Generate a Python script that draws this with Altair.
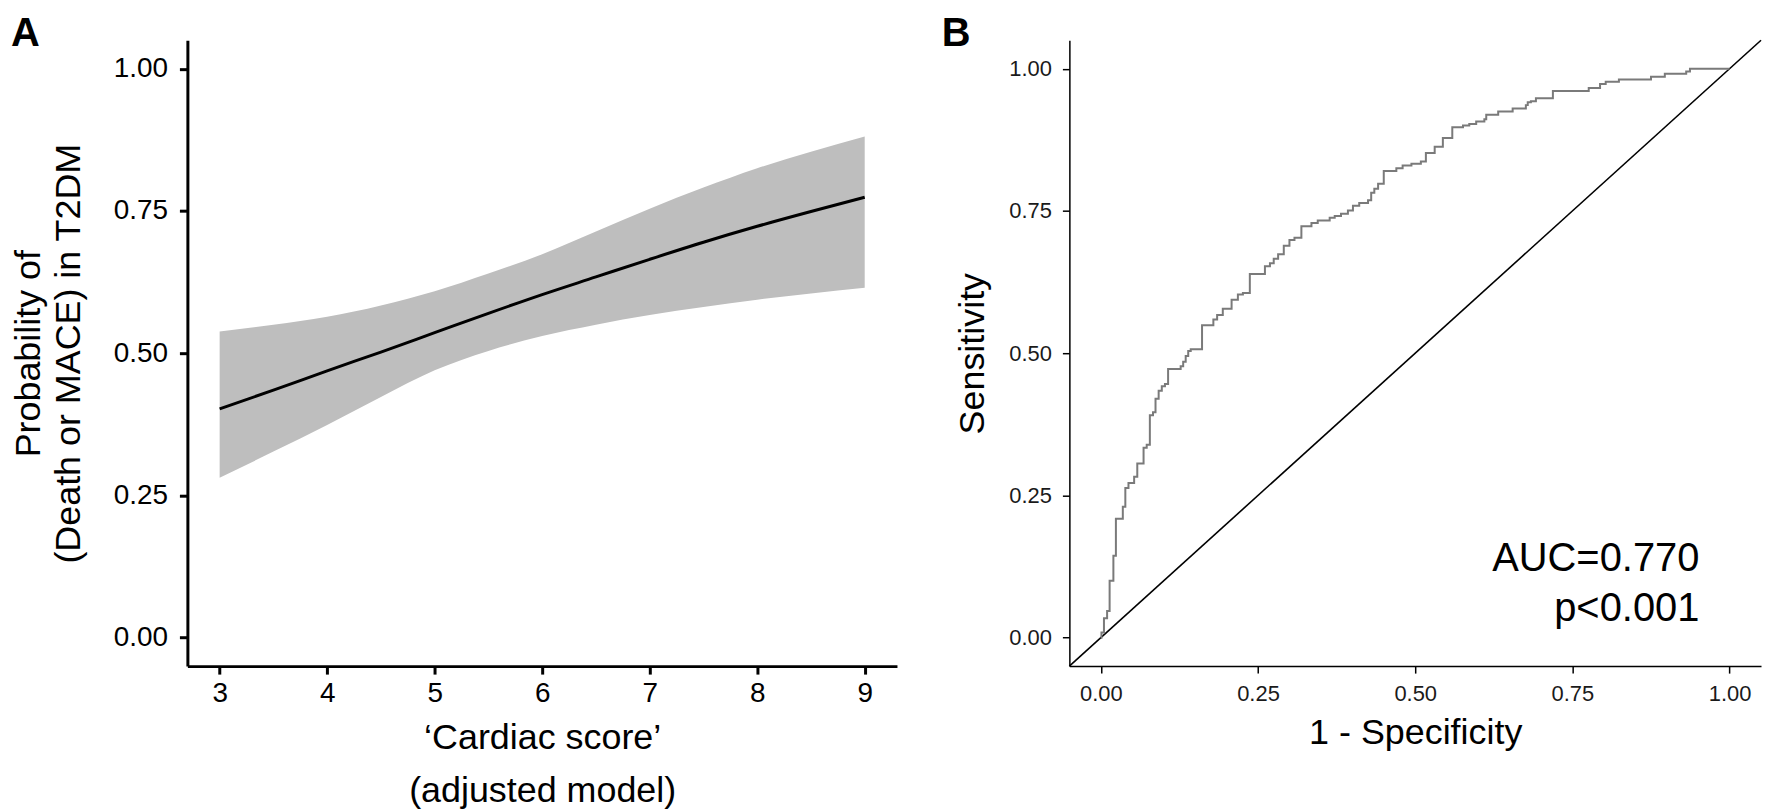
import altair as alt
import pandas as pd

FONT = "Liberation Sans"

# ---------------- Panel A: predicted probability vs cardiac score ----------------
score = [3.0, 3.5, 4.0, 4.5, 5.0, 5.5, 6.0, 6.5, 7.0, 7.5, 8.0, 8.5, 9.0]
prob = [0.402, 0.435, 0.469, 0.502, 0.536, 0.570, 0.603, 0.634, 0.665, 0.695, 0.723, 0.749, 0.774]
ci_low = [0.281, 0.327, 0.374, 0.423, 0.470, 0.504, 0.530, 0.550, 0.567, 0.581, 0.594, 0.605, 0.615]
ci_high = [0.538, 0.550, 0.564, 0.584, 0.609, 0.640, 0.674, 0.714, 0.754, 0.791, 0.825, 0.854, 0.881]
a_xticks = [3, 4, 5, 6, 7, 8, 9]
prob_ticks = [0.0, 0.25, 0.5, 0.75, 1.0]

# ---------------- Panel B: ROC curve (points where the curve rises) ----------------
fpr = [0.000, 0.001, 0.005, 0.010, 0.014, 0.020, 0.024, 0.035, 0.039, 0.044,
       0.053, 0.058, 0.068, 0.073, 0.078, 0.083, 0.087, 0.092, 0.097, 0.102,
       0.107, 0.127, 0.131, 0.135, 0.139, 0.143, 0.161, 0.179, 0.185, 0.194,
       0.208, 0.218, 0.226, 0.237, 0.261, 0.269, 0.275, 0.282, 0.291, 0.300,
       0.308, 0.319, 0.335, 0.345, 0.364, 0.372, 0.382, 0.393, 0.401, 0.411,
       0.425, 0.430, 0.435, 0.441, 0.450, 0.470, 0.480, 0.494, 0.509, 0.517,
       0.531, 0.544, 0.559, 0.576, 0.586, 0.597, 0.610, 0.613, 0.632, 0.655,
       0.676, 0.679, 0.684, 0.692, 0.719, 0.776, 0.794, 0.803, 0.824, 0.875,
       0.897, 0.931, 0.937, 1.000]
sens = [0.000, 0.009, 0.034, 0.047, 0.100, 0.144, 0.209, 0.230, 0.263, 0.272,
        0.283, 0.306, 0.334, 0.339, 0.391, 0.396, 0.420, 0.434, 0.442, 0.446,
        0.472, 0.477, 0.485, 0.495, 0.504, 0.507, 0.549, 0.559, 0.567, 0.578,
        0.594, 0.603, 0.606, 0.639, 0.653, 0.658, 0.666, 0.674, 0.689, 0.699,
        0.703, 0.723, 0.729, 0.733, 0.738, 0.741, 0.745, 0.751, 0.759, 0.764,
        0.769, 0.782, 0.789, 0.798, 0.820, 0.825, 0.830, 0.833, 0.837, 0.852,
        0.863, 0.878, 0.897, 0.900, 0.903, 0.907, 0.911, 0.919, 0.925, 0.930,
        0.936, 0.941, 0.943, 0.948, 0.961, 0.966, 0.973, 0.977, 0.981, 0.986,
        0.991, 0.995, 1.000, 1.000]
b_ticks = [0.0, 0.25, 0.5, 0.75, 1.0]
auc_label = "AUC=0.770\np<0.001"

# ---------------- layout constants ----------------
A_W, A_H = 712, 628
B_W, B_H = 694, 628
UNIT_DOM = [-0.05, 1.05]

dfA = pd.DataFrame({"score": score, "prob": prob, "lo": ci_low, "hi": ci_high})
dfB = pd.DataFrame({"fpr": fpr, "sens": sens, "order": list(range(len(fpr)))})
dfDiag = pd.DataFrame({"fpr": UNIT_DOM, "sens": UNIT_DOM})

# ---------- Panel A ----------
xA = alt.X("score:Q",
           scale=alt.Scale(domain=[2.7, 9.3], nice=False, zero=False),
           axis=alt.Axis(values=a_xticks, format="d",
                         title=["\u2018Cardiac score\u2019", "(adjusted model)"],
                         titleFontSize=36, titleFontWeight="normal", titleColor="black",
                         titleBaseline="alphabetic", titleY=83, titleLineHeight=53,
                         labelFontSize=28, labelColor="black", labelPadding=5,
                         tickSize=8, tickWidth=3, tickColor="black",
                         domainWidth=3, domainColor="black", grid=False))
yA = alt.Y("prob:Q",
           scale=alt.Scale(domain=UNIT_DOM, nice=False, zero=False),
           axis=alt.Axis(values=prob_ticks, format=".2f",
                         title=["Probability of", "(Death or MACE) in T2DM"],
                         titleFontSize=36, titleFontWeight="normal", titleColor="black",
                         titleX=-140, titleY=A_H / 2, titleLineHeight=40,
                         labelFontSize=28, labelColor="black", labelPadding=12,
                         tickSize=8, tickWidth=3, tickColor="black",
                         domainWidth=3, domainColor="black", grid=False))

bandA = alt.Chart(dfA).mark_area(color="#bebebe", interpolate="monotone").encode(
    x=xA, y=alt.Y("lo:Q", scale=alt.Scale(domain=UNIT_DOM, nice=False, zero=False)), y2="hi:Q")
lineA = alt.Chart(dfA).mark_line(color="black", strokeWidth=3, interpolate="monotone").encode(
    x=xA, y=yA)
tagA = alt.Chart(pd.DataFrame({"t": ["A"]})).mark_text(
    align="left", baseline="alphabetic", fontSize=40, fontWeight="bold", font=FONT, color="black"
).encode(x=alt.value(-177), y=alt.value(6), text="t:N")

panelA = alt.layer(bandA, lineA, tagA).properties(width=A_W, height=A_H)

# ---------- Panel B ----------
xB = alt.X("fpr:Q",
           scale=alt.Scale(domain=UNIT_DOM, nice=False, zero=False),
           axis=alt.Axis(values=b_ticks, format=".2f", title="1 - Specificity",
                         titleFontSize=36, titleFontWeight="normal", titleColor="black",
                         titleBaseline="alphabetic", titleY=78,
                         labelFontSize=22, labelColor="#1a1a1a", labelPadding=10,
                         tickSize=7, tickWidth=1.5, tickColor="black",
                         domainWidth=1.5, domainColor="black", grid=False))
yB = alt.Y("sens:Q",
           scale=alt.Scale(domain=UNIT_DOM, nice=False, zero=False),
           axis=alt.Axis(values=b_ticks, format=".2f", title="Sensitivity",
                         titleFontSize=36, titleFontWeight="normal", titleColor="black",
                         titleX=-78, titleY=B_H / 2,
                         labelFontSize=22, labelColor="#1a1a1a", labelPadding=11,
                         tickSize=7, tickWidth=1.5, tickColor="black",
                         domainWidth=1.5, domainColor="black", grid=False))

diagB = alt.Chart(dfDiag).mark_line(color="black", strokeWidth=1.6).encode(x=xB, y=yB)
rocB = alt.Chart(dfB).mark_line(color="#7a7a7a", strokeWidth=2, interpolate="step-after").encode(
    x=xB, y=yB, order="order:Q")
aucB = alt.Chart(pd.DataFrame({"t": [auc_label]})).mark_text(
    align="right", baseline="middle", fontSize=40, font=FONT, color="black",
    lineBreak="\n", lineHeight=50
).encode(x=alt.datum(0.952), y=alt.datum(0.138), text="t:N")
tagB = alt.Chart(pd.DataFrame({"t": ["B"]})).mark_text(
    align="left", baseline="alphabetic", fontSize=40, fontWeight="bold", font=FONT, color="black"
).encode(x=alt.value(-128), y=alt.value(6), text="t:N")

panelB = alt.layer(diagB, rocB, aucB, tagB).properties(width=B_W, height=B_H)

chart = alt.hconcat(panelA, panelB, spacing=45).properties(
    padding={"left": 3, "top": 5, "right": 0, "bottom": 0}
).configure(font=FONT).configure_view(stroke=None)

chart.save("out.html", embed_options={"renderer": "svg", "actions": False})
